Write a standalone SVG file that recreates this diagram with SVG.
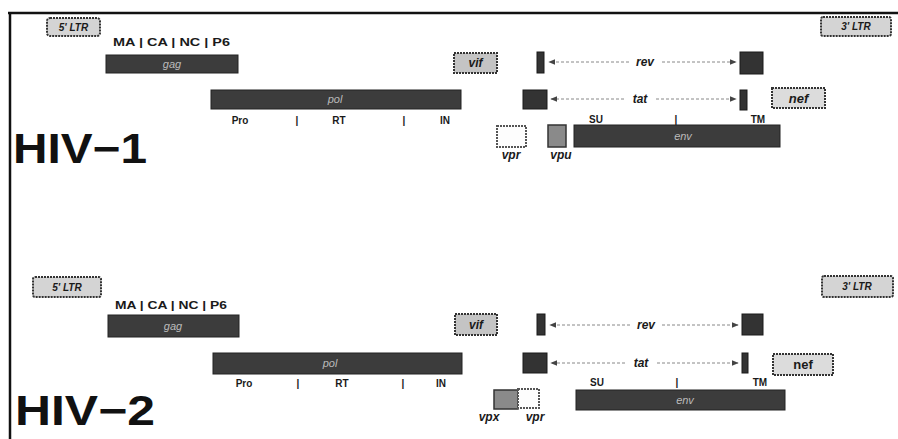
<svg xmlns="http://www.w3.org/2000/svg" width="898" height="439" viewBox="0 0 898 439">
<defs>
<marker id="ah" viewBox="0 0 10 10" refX="9" refY="5" markerWidth="7" markerHeight="7" orient="auto-start-reverse" markerUnits="userSpaceOnUse">
<path d="M0,1 L10,5 L0,9 Z" fill="#444"/>
</marker>
<style>
.bar{fill:#3c3c3c;stroke:#222;stroke-width:1}
.dark{fill:#333;stroke:#1a1a1a;stroke-width:1}
.ltr{fill:#d4d4d4;stroke:#333;stroke-width:2;stroke-dasharray:2 1}
.lbox{fill:#c4c4c4;stroke:#333;stroke-width:2;stroke-dasharray:2 1}
.wbox{fill:#fdfdfd;stroke:#555;stroke-width:2;stroke-dasharray:2 1}
.gbox{fill:#8a8a8a;stroke:#333;stroke-width:1.5}
.t{font-family:"Liberation Sans",Arial,sans-serif;font-weight:bold;fill:#1a1a1a}
.it{font-style:italic}
.s{font-size:10px}
.in{font-family:"Liberation Sans",Arial,sans-serif;font-size:11px;font-style:italic;fill:#bbb;text-anchor:middle}
.big{font-family:"Liberation Sans",Arial,sans-serif;font-weight:900;font-size:42px;fill:#111}
.dash{stroke:#888;stroke-width:1;stroke-dasharray:3 2;fill:none}
.mid{text-anchor:middle}
</style>
</defs>
<rect width="898" height="439" fill="#fff"/>
<g id="frame">
<line x1="8" y1="13" x2="898" y2="13" stroke="#111" stroke-width="2.5"/>
<line x1="10" y1="12" x2="10" y2="439" stroke="#111" stroke-width="2.5"/>
</g>

<!-- HIV-1 -->
<g id="hiv1-label"><text class="big" x="13" y="163" textLength="134" lengthAdjust="spacingAndGlyphs">HIV−1</text></g>
<g id="hiv1-ltr5"><rect class="ltr" x="47" y="18" width="53" height="18" rx="3"/><text class="t it s mid" x="73.5" y="31">5' LTR</text></g>
<g id="hiv1-gag"><text class="t" font-size="10" x="113" y="46" textLength="117" lengthAdjust="spacingAndGlyphs">MA | CA | NC | P6</text><rect class="bar" x="106" y="55" width="132" height="18"/><text class="in" x="172" y="68">gag</text></g>
<g id="hiv1-pol"><rect class="bar" x="211" y="90" width="250" height="19"/><text class="in" x="335" y="103">pol</text>
<text class="t s mid" x="240" y="124">Pro</text><text class="t s mid" x="297" y="124">|</text><text class="t s mid" x="339" y="124">RT</text><text class="t s mid" x="404" y="124">|</text><text class="t s mid" x="445" y="124">IN</text></g>
<g id="hiv1-vif"><rect class="lbox" x="454" y="53" width="43" height="20"/><text class="t it mid" font-size="12" x="475.5" y="67">vif</text></g>
<g id="hiv1-rev"><rect class="dark" x="537" y="52" width="7" height="21"/><rect class="dark" x="740" y="52" width="23" height="22"/><text class="t it mid" font-size="12" x="645" y="66">rev</text></g>
<g id="hiv1-tat"><rect class="dark" x="523" y="90" width="24" height="19"/><rect class="dark" x="740" y="90" width="7" height="20"/><text class="t it mid" font-size="12" x="640" y="103">tat</text></g>
<g id="hiv1-nef"><rect class="lbox" x="772" y="88" width="53" height="20" fill="#dcdcdc" style="fill:#dcdcdc"/><text class="t it mid" font-size="13" x="798.5" y="103">nef</text></g>
<g id="hiv1-vpr"><rect class="wbox" x="497" y="126" width="29" height="21"/><text class="t it mid" font-size="12" x="511" y="159">vpr</text></g>
<g id="hiv1-vpu"><rect class="gbox" x="548" y="125" width="18" height="22"/><text class="t it mid" font-size="12" x="561" y="159">vpu</text></g>
<g id="hiv1-env"><text class="t s mid" x="596" y="123">SU</text><text class="t s mid" x="676" y="123">|</text><text class="t s mid" x="758" y="123">TM</text><rect class="bar" x="574" y="125" width="206" height="22"/><text class="in" x="683" y="140">env</text></g>
<g id="hiv1-ltr3"><rect class="ltr" x="821" y="17" width="70" height="19" rx="2"/><text class="t it s mid" x="856" y="30">3' LTR</text></g>

<!-- HIV-2 -->
<g id="hiv2-label"><text class="big" x="15" y="425" textLength="140" lengthAdjust="spacingAndGlyphs">HIV−2</text></g>
<g id="hiv2-ltr5"><rect class="ltr" x="33" y="277" width="68" height="20" rx="2"/><text class="t it s mid" x="67" y="291">5' LTR</text></g>
<g id="hiv2-gag"><text class="t" font-size="10" x="115" y="309" textLength="112" lengthAdjust="spacingAndGlyphs">MA | CA | NC | P6</text><rect class="bar" x="108" y="315" width="131" height="22"/><text class="in" x="173" y="330">gag</text></g>
<g id="hiv2-pol"><rect class="bar" x="213" y="353" width="249" height="21"/><text class="in" x="330" y="367">pol</text>
<text class="t s mid" x="244" y="387">Pro</text><text class="t s mid" x="298" y="387">|</text><text class="t s mid" x="342" y="387">RT</text><text class="t s mid" x="403" y="387">|</text><text class="t s mid" x="441" y="387">IN</text></g>
<g id="hiv2-vif"><rect class="lbox" x="455" y="314" width="42" height="21"/><text class="t it mid" font-size="12" x="476" y="329">vif</text></g>
<g id="hiv2-rev"><rect class="dark" x="537" y="314" width="8" height="21"/><rect class="dark" x="742" y="314" width="21" height="21"/><text class="t it mid" font-size="12" x="646" y="329">rev</text></g>
<g id="hiv2-tat"><rect class="dark" x="523" y="353" width="24" height="20"/><rect class="dark" x="742" y="353" width="6" height="20"/><text class="t it mid" font-size="12" x="641" y="367">tat</text></g>
<g id="hiv2-nef"><rect class="lbox" x="773" y="354" width="60" height="21" style="fill:#dcdcdc"/><text class="t mid" font-size="13" x="803" y="369">nef</text></g>
<g id="hiv2-vpx"><rect class="gbox" x="494" y="390" width="24" height="19"/><text class="t it mid" font-size="12" x="489" y="421">vpx</text></g>
<g id="hiv2-vpr"><rect class="wbox" x="518" y="389" width="21" height="19"/><text class="t it mid" font-size="12" x="535" y="421">vpr</text></g>
<g id="hiv2-env"><text class="t s mid" x="597" y="386">SU</text><text class="t s mid" x="677" y="386">|</text><text class="t s mid" x="760" y="386">TM</text><rect class="bar" x="576" y="390" width="209" height="20"/><text class="in" x="685" y="404">env</text></g>
<g id="hiv2-ltr3"><rect class="ltr" x="822" y="276" width="71" height="21" rx="2"/><text class="t it s mid" x="857" y="290">3' LTR</text></g>

<g id="connectors">
<line class="dash" x1="629" y1="62" x2="549" y2="62" marker-end="url(#ah)"/>
<line class="dash" x1="662" y1="62" x2="736" y2="62" marker-end="url(#ah)"/>
<line class="dash" x1="624" y1="99" x2="551" y2="99" marker-end="url(#ah)"/>
<line class="dash" x1="656" y1="99" x2="736" y2="99" marker-end="url(#ah)"/>
<line class="dash" x1="630" y1="325" x2="550" y2="325" marker-end="url(#ah)"/>
<line class="dash" x1="662" y1="325" x2="738" y2="325" marker-end="url(#ah)"/>
<line class="dash" x1="625" y1="363" x2="551" y2="363" marker-end="url(#ah)"/>
<line class="dash" x1="657" y1="363" x2="738" y2="363" marker-end="url(#ah)"/>
</g>
</svg>
